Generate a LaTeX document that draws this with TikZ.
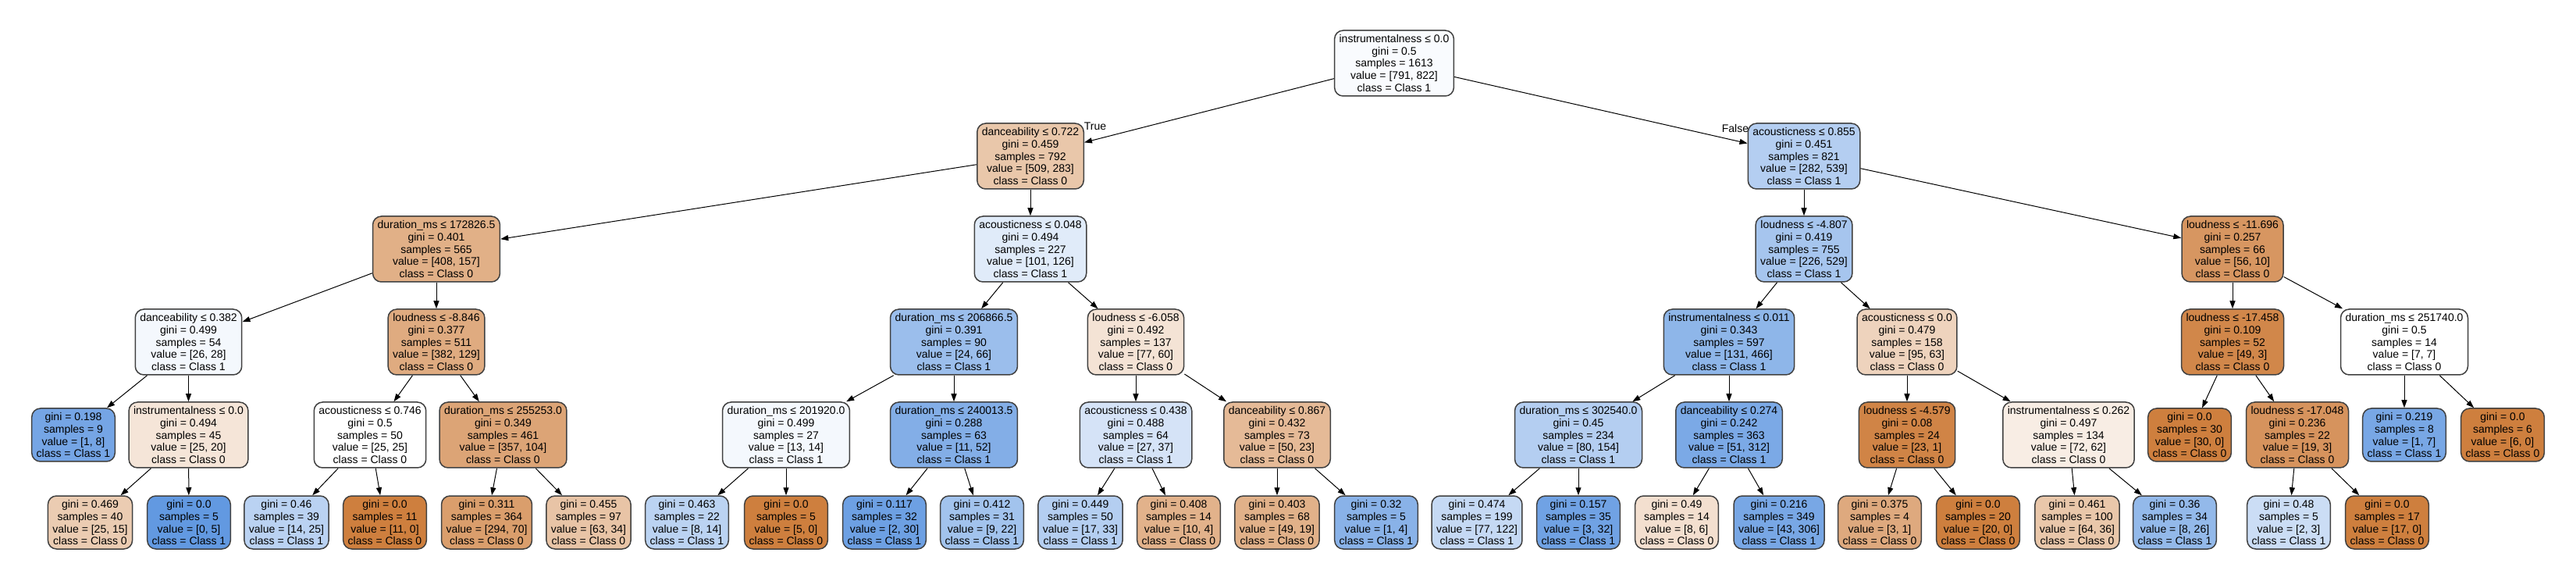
\documentclass[tikz,border=0pt]{standalone}
\usepackage{fontspec}
\setmainfont{Liberation Sans}
\usetikzlibrary{arrows.meta}
\begin{document}
\begin{tikzpicture}[
  splitbox/.style={draw=black!75, line width=0.03cm, rounded corners=0.22cm, align=center,
    inner xsep=0.12cm, inner ysep=0cm, minimum height=1.68cm,
    font=\fontsize{7.97}{9.1}\selectfont},
  leafbox/.style={splitbox, minimum height=1.36cm},
  edge/.style={line width=0.02cm, -{Triangle[length=0.2cm,width=0.14cm]}},
  branchlbl/.style={inner sep=0cm, font=\fontsize{7.97}{9.1}\selectfont}]
\useasboundingbox (0.000000,0.000000) rectangle (66.000000,14.860000);%

% Changing colors of class 0 and class 1
\definecolor{r206g127b62}{RGB}{206,127,62}%
\definecolor{r98g153b225}{RGB}{98,153,225}%

% Drawing level 0
\node[splitbox, fill=r98g153b225!4] (n0) at (35.720000,13.240000) {instrumentalness ≤ 0.0\\gini = 0.5\\samples = 1613\\value = [791, 822]\\class = Class 1};%

% Drawing level 1
\node[splitbox, fill=r206g127b62!44] (n1) at (26.400000,10.860000) {danceability ≤ 0.722\\gini = 0.459\\samples = 792\\value = [509, 283]\\class = Class 0};%
\node[splitbox, fill=r98g153b225!48] (n30) at (46.220000,10.860000) {acousticness ≤ 0.855\\gini = 0.451\\samples = 821\\value = [282, 539]\\class = Class 1};%

% Drawing level 2
\node[splitbox, fill=r206g127b62!62] (n2) at (11.180000,8.480000) {duration\_ms ≤ 172826.5\\gini = 0.401\\samples = 565\\value = [408, 157]\\class = Class 0};%
\node[splitbox, fill=r98g153b225!20] (n15) at (26.400000,8.480000) {acousticness ≤ 0.048\\gini = 0.494\\samples = 227\\value = [101, 126]\\class = Class 1};%
\node[splitbox, fill=r98g153b225!57] (n31) at (46.220000,8.480000) {loudness ≤ -4.807\\gini = 0.419\\samples = 755\\value = [226, 529]\\class = Class 1};%
\node[splitbox, fill=r206g127b62!82] (n46) at (57.200000,8.480000) {loudness ≤ -11.696\\gini = 0.257\\samples = 66\\value = [56, 10]\\class = Class 0};%

% Drawing level 3
\node[splitbox, fill=r98g153b225!7] (n3) at (4.830000,6.100000) {danceability ≤ 0.382\\gini = 0.499\\samples = 54\\value = [26, 28]\\class = Class 1};%
\node[splitbox, fill=r206g127b62!66] (n8) at (11.180000,6.100000) {loudness ≤ -8.846\\gini = 0.377\\samples = 511\\value = [382, 129]\\class = Class 0};%
\node[splitbox, fill=r98g153b225!64] (n16) at (24.440000,6.100000) {duration\_ms ≤ 206866.5\\gini = 0.391\\samples = 90\\value = [24, 66]\\class = Class 1};%
\node[splitbox, fill=r206g127b62!22] (n23) at (29.100000,6.100000) {loudness ≤ -6.058\\gini = 0.492\\samples = 137\\value = [77, 60]\\class = Class 0};%
\node[splitbox, fill=r98g153b225!72] (n32) at (44.300000,6.100000) {instrumentalness ≤ 0.011\\gini = 0.343\\samples = 597\\value = [131, 466]\\class = Class 1};%
\node[splitbox, fill=r206g127b62!34] (n39) at (48.860000,6.100000) {acousticness ≤ 0.0\\gini = 0.479\\samples = 158\\value = [95, 63]\\class = Class 0};%
\node[splitbox, fill=r206g127b62!94] (n47) at (57.200000,6.100000) {loudness ≤ -17.458\\gini = 0.109\\samples = 52\\value = [49, 3]\\class = Class 0};%
\node[splitbox, fill=white] (n52) at (61.600000,6.100000) {duration\_ms ≤ 251740.0\\gini = 0.5\\samples = 14\\value = [7, 7]\\class = Class 0};%

% Drawing level 4
\node[leafbox, fill=r98g153b225!88] (n4) at (1.880000,3.720000) {gini = 0.198\\samples = 9\\value = [1, 8]\\class = Class 1};%
\node[splitbox, fill=r206g127b62!20] (n5) at (4.830000,3.720000) {instrumentalness ≤ 0.0\\gini = 0.494\\samples = 45\\value = [25, 20]\\class = Class 0};%
\node[splitbox, fill=white] (n9) at (9.480000,3.720000) {acousticness ≤ 0.746\\gini = 0.5\\samples = 50\\value = [25, 25]\\class = Class 0};%
\node[splitbox, fill=r206g127b62!71] (n12) at (12.890000,3.720000) {duration\_ms ≤ 255253.0\\gini = 0.349\\samples = 461\\value = [357, 104]\\class = Class 0};%
\node[splitbox, fill=r98g153b225!7] (n17) at (20.140000,3.720000) {duration\_ms ≤ 201920.0\\gini = 0.499\\samples = 27\\value = [13, 14]\\class = Class 1};%
\node[splitbox, fill=r98g153b225!79] (n20) at (24.440000,3.720000) {duration\_ms ≤ 240013.5\\gini = 0.288\\samples = 63\\value = [11, 52]\\class = Class 1};%
\node[splitbox, fill=r98g153b225!27] (n24) at (29.100000,3.720000) {acousticness ≤ 0.438\\gini = 0.488\\samples = 64\\value = [27, 37]\\class = Class 1};%
\node[splitbox, fill=r206g127b62!54] (n27) at (32.720000,3.720000) {danceability ≤ 0.867\\gini = 0.432\\samples = 73\\value = [50, 23]\\class = Class 0};%
\node[splitbox, fill=r98g153b225!48] (n33) at (40.440000,3.720000) {duration\_ms ≤ 302540.0\\gini = 0.45\\samples = 234\\value = [80, 154]\\class = Class 1};%
\node[splitbox, fill=r98g153b225!84] (n36) at (44.300000,3.720000) {danceability ≤ 0.274\\gini = 0.242\\samples = 363\\value = [51, 312]\\class = Class 1};%
\node[splitbox, fill=r206g127b62!96] (n40) at (48.860000,3.720000) {loudness ≤ -4.579\\gini = 0.08\\samples = 24\\value = [23, 1]\\class = Class 0};%
\node[splitbox, fill=r206g127b62!14] (n43) at (53.000000,3.720000) {instrumentalness ≤ 0.262\\gini = 0.497\\samples = 134\\value = [72, 62]\\class = Class 0};%
\node[leafbox, fill=r206g127b62] (n48) at (56.100000,3.720000) {gini = 0.0\\samples = 30\\value = [30, 0]\\class = Class 0};%
\node[splitbox, fill=r206g127b62!84] (n49) at (58.860000,3.720000) {loudness ≤ -17.048\\gini = 0.236\\samples = 22\\value = [19, 3]\\class = Class 0};%
\node[leafbox, fill=r98g153b225!86] (n53) at (61.600000,3.720000) {gini = 0.219\\samples = 8\\value = [1, 7]\\class = Class 1};%
\node[leafbox, fill=r206g127b62] (n54) at (64.120000,3.720000) {gini = 0.0\\samples = 6\\value = [6, 0]\\class = Class 0};%

% Drawing level 5
\node[leafbox, fill=r206g127b62!40] (n6) at (2.310000,1.480000) {gini = 0.469\\samples = 40\\value = [25, 15]\\class = Class 0};%
\node[leafbox, fill=r98g153b225] (n7) at (4.840000,1.480000) {gini = 0.0\\samples = 5\\value = [0, 5]\\class = Class 1};%
\node[leafbox, fill=r98g153b225!44] (n10) at (7.340000,1.480000) {gini = 0.46\\samples = 39\\value = [14, 25]\\class = Class 1};%
\node[leafbox, fill=r206g127b62] (n11) at (9.860000,1.480000) {gini = 0.0\\samples = 11\\value = [11, 0]\\class = Class 0};%
\node[leafbox, fill=r206g127b62!76] (n13) at (12.470000,1.480000) {gini = 0.311\\samples = 364\\value = [294, 70]\\class = Class 0};%
\node[leafbox, fill=r206g127b62!46] (n14) at (15.080000,1.480000) {gini = 0.455\\samples = 97\\value = [63, 34]\\class = Class 0};%
\node[leafbox, fill=r98g153b225!43] (n18) at (17.600000,1.480000) {gini = 0.463\\samples = 22\\value = [8, 14]\\class = Class 1};%
\node[leafbox, fill=r206g127b62] (n19) at (20.140000,1.480000) {gini = 0.0\\samples = 5\\value = [5, 0]\\class = Class 0};%
\node[leafbox, fill=r98g153b225!93] (n21) at (22.660000,1.480000) {gini = 0.117\\samples = 32\\value = [2, 30]\\class = Class 1};%
\node[leafbox, fill=r98g153b225!59] (n22) at (25.160000,1.480000) {gini = 0.412\\samples = 31\\value = [9, 22]\\class = Class 1};%
\node[leafbox, fill=r98g153b225!48] (n25) at (27.680000,1.480000) {gini = 0.449\\samples = 50\\value = [17, 33]\\class = Class 1};%
\node[leafbox, fill=r206g127b62!60] (n26) at (30.200000,1.480000) {gini = 0.408\\samples = 14\\value = [10, 4]\\class = Class 0};%
\node[leafbox, fill=r206g127b62!61] (n28) at (32.720000,1.480000) {gini = 0.403\\samples = 68\\value = [49, 19]\\class = Class 0};%
\node[leafbox, fill=r98g153b225!75] (n29) at (35.260000,1.480000) {gini = 0.32\\samples = 5\\value = [1, 4]\\class = Class 1};%
\node[leafbox, fill=r98g153b225!37] (n34) at (37.840000,1.480000) {gini = 0.474\\samples = 199\\value = [77, 122]\\class = Class 1};%
\node[leafbox, fill=r98g153b225!91] (n35) at (40.440000,1.480000) {gini = 0.157\\samples = 35\\value = [3, 32]\\class = Class 1};%
\node[leafbox, fill=r206g127b62!25] (n37) at (42.960000,1.480000) {gini = 0.49\\samples = 14\\value = [8, 6]\\class = Class 0};%
\node[leafbox, fill=r98g153b225!86] (n38) at (45.580000,1.480000) {gini = 0.216\\samples = 349\\value = [43, 306]\\class = Class 1};%
\node[leafbox, fill=r206g127b62!67] (n41) at (48.160000,1.480000) {gini = 0.375\\samples = 4\\value = [3, 1]\\class = Class 0};%
\node[leafbox, fill=r206g127b62] (n42) at (50.680000,1.480000) {gini = 0.0\\samples = 20\\value = [20, 0]\\class = Class 0};%
\node[leafbox, fill=r206g127b62!44] (n44) at (53.220000,1.480000) {gini = 0.461\\samples = 100\\value = [64, 36]\\class = Class 0};%
\node[leafbox, fill=r98g153b225!69] (n45) at (55.720000,1.480000) {gini = 0.36\\samples = 34\\value = [8, 26]\\class = Class 1};%
\node[leafbox, fill=r98g153b225!33] (n50) at (58.640000,1.480000) {gini = 0.48\\samples = 5\\value = [2, 3]\\class = Class 1};%
\node[leafbox, fill=r206g127b62] (n51) at (61.160000,1.480000) {gini = 0.0\\samples = 17\\value = [17, 0]\\class = Class 0};%

% Drawing branch labels
\node[branchlbl] (lbltrue) at (28.060000,11.620000) {True};%
\node[branchlbl] (lblfalse) at (44.460000,11.580000) {False};%

% Drawing edges
\draw[edge] (n0) -- (n1);%
\draw[edge] (n0) -- (n30);%
\draw[edge] (n1) -- (n2);%
\draw[edge] (n1) -- (n15);%
\draw[edge] (n2) -- (n3);%
\draw[edge] (n2) -- (n8);%
\draw[edge] (n3) -- (n4);%
\draw[edge] (n3) -- (n5);%
\draw[edge] (n5) -- (n6);%
\draw[edge] (n5) -- (n7);%
\draw[edge] (n8) -- (n9);%
\draw[edge] (n8) -- (n12);%
\draw[edge] (n9) -- (n10);%
\draw[edge] (n9) -- (n11);%
\draw[edge] (n12) -- (n13);%
\draw[edge] (n12) -- (n14);%
\draw[edge] (n15) -- (n16);%
\draw[edge] (n15) -- (n23);%
\draw[edge] (n16) -- (n17);%
\draw[edge] (n16) -- (n20);%
\draw[edge] (n17) -- (n18);%
\draw[edge] (n17) -- (n19);%
\draw[edge] (n20) -- (n21);%
\draw[edge] (n20) -- (n22);%
\draw[edge] (n23) -- (n24);%
\draw[edge] (n23) -- (n27);%
\draw[edge] (n24) -- (n25);%
\draw[edge] (n24) -- (n26);%
\draw[edge] (n27) -- (n28);%
\draw[edge] (n27) -- (n29);%
\draw[edge] (n30) -- (n31);%
\draw[edge] (n30) -- (n46);%
\draw[edge] (n31) -- (n32);%
\draw[edge] (n31) -- (n39);%
\draw[edge] (n32) -- (n33);%
\draw[edge] (n32) -- (n36);%
\draw[edge] (n33) -- (n34);%
\draw[edge] (n33) -- (n35);%
\draw[edge] (n36) -- (n37);%
\draw[edge] (n36) -- (n38);%
\draw[edge] (n39) -- (n40);%
\draw[edge] (n39) -- (n43);%
\draw[edge] (n40) -- (n41);%
\draw[edge] (n40) -- (n42);%
\draw[edge] (n43) -- (n44);%
\draw[edge] (n43) -- (n45);%
\draw[edge] (n46) -- (n47);%
\draw[edge] (n46) -- (n52);%
\draw[edge] (n47) -- (n48);%
\draw[edge] (n47) -- (n49);%
\draw[edge] (n49) -- (n50);%
\draw[edge] (n49) -- (n51);%
\draw[edge] (n52) -- (n53);%
\draw[edge] (n52) -- (n54);%
\end{tikzpicture}
\end{document}
